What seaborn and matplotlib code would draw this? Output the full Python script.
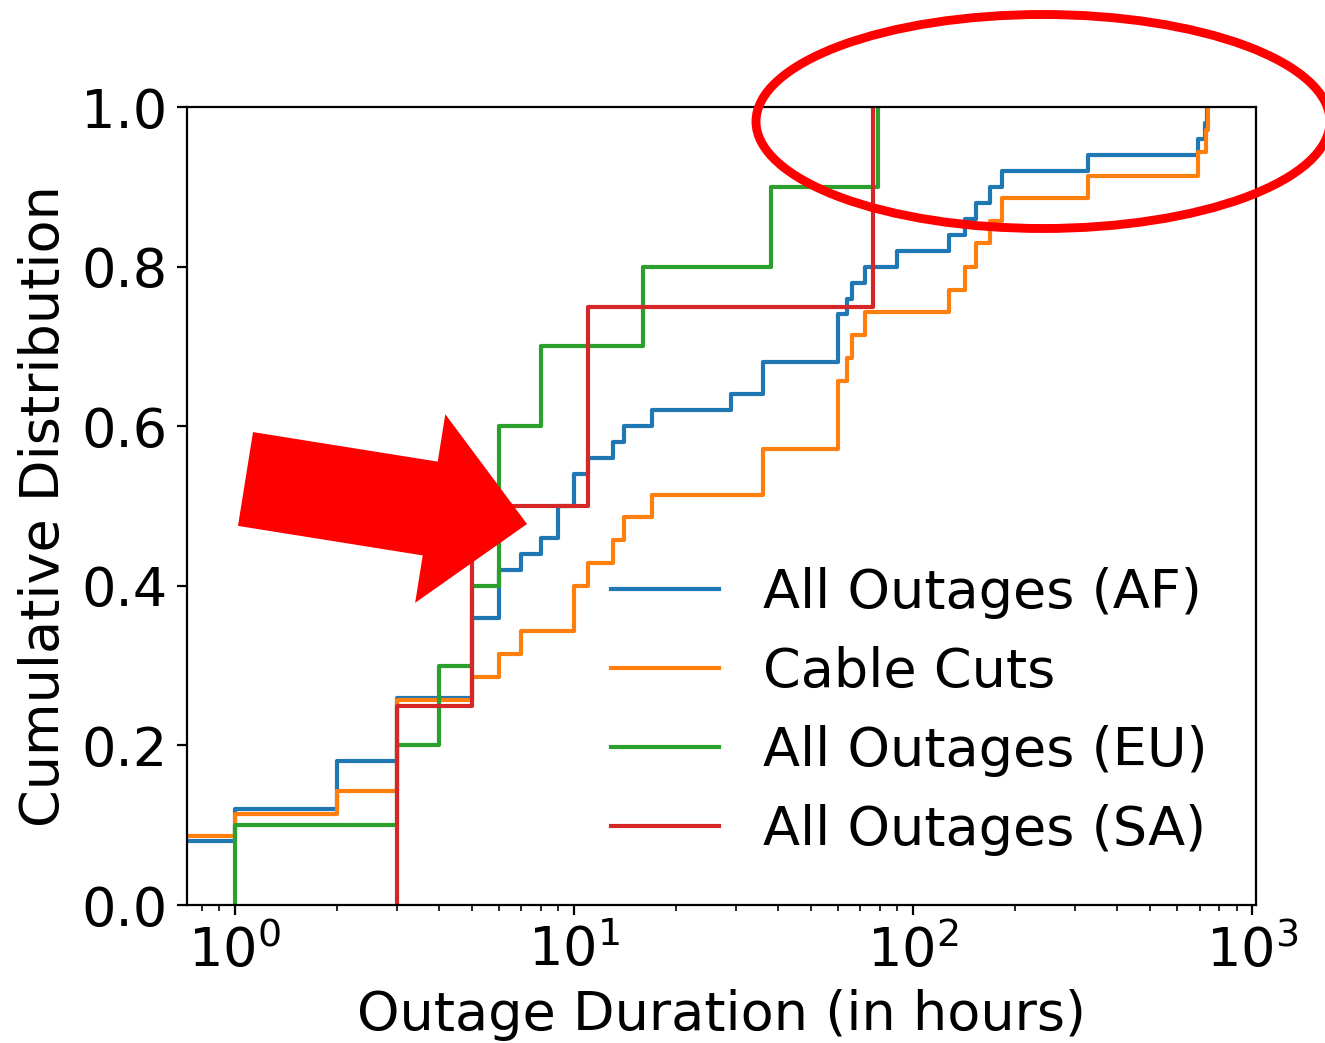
import numpy as np
import pandas as pd
import matplotlib
matplotlib.use('Agg')
import matplotlib.pyplot as plt
from matplotlib.patches import Ellipse, FancyArrow
import seaborn as sns

# step points (hours, cumulative fraction)
af_hours = [0, 1, 2, 3, 5, 6, 7, 8, 9, 10, 11, 13, 14, 17, 29, 36, 60, 64, 66, 72,
            90, 128, 142, 153, 169, 183, 328, 693, 727, 738]
af_cdf = [0.08, 0.12, 0.18, 0.26, 0.36, 0.42, 0.44, 0.46, 0.50, 0.54, 0.56, 0.58, 0.60,
          0.62, 0.64, 0.68, 0.74, 0.76, 0.78, 0.80, 0.82, 0.84, 0.86, 0.88, 0.90, 0.92,
          0.94, 0.96, 0.98, 1.0]

cut_hours = [0, 1, 2, 3, 5, 6, 7, 10, 11, 13, 14, 17, 36, 60, 64, 66, 72, 128, 142,
             153, 169, 183, 328, 693, 733, 740]
cut_cdf = [0.086, 0.114, 0.143, 0.257, 0.286, 0.314, 0.343, 0.400, 0.429, 0.457, 0.486,
           0.514, 0.571, 0.657, 0.686, 0.714, 0.743, 0.771, 0.800, 0.829, 0.857, 0.886,
           0.914, 0.943, 0.971, 1.0]

eu_hours = [1, 1, 3, 4, 5, 6, 8, 16, 38, 79]
eu_cdf = [0.0, 0.1, 0.2, 0.3, 0.4, 0.6, 0.7, 0.8, 0.9, 1.0]

sa_hours = [3, 3, 5, 11, 76]
sa_cdf = [0.0, 0.25, 0.5, 0.75, 1.0]

labels = ['All Outages (AF)', 'Cable Cuts', 'All Outages (EU)', 'All Outages (SA)']
colors = ['#1f77b4', '#ff7f0e', '#2ca02c', '#d62728']
series = [(af_hours, af_cdf), (cut_hours, cut_cdf), (eu_hours, eu_cdf), (sa_hours, sa_cdf)]

plt.rcParams['font.size'] = 19.5

fig = plt.figure(figsize=(6.625, 5.215), dpi=200)
ax = fig.add_axes([0.1411, 0.1323, 0.8068, 0.7651])

for (hrs, cdf), lab, col in zip(series, labels, colors):
    df = pd.DataFrame({'hours': hrs, 'cdf': cdf})
    sns.lineplot(data=df, x='hours', y='cdf', ax=ax, estimator=None, sort=False,
                 drawstyle='steps-post', color=col, label=lab, linewidth=1.5)

ax.set_xscale('log')
ax.set_xlim(0.722, 1027)
ax.set_ylim(0, 1.0)
ax.set_yticks([0.0, 0.2, 0.4, 0.6, 0.8, 1.0])
ax.set_xlabel('Outage Duration (in hours)')
ax.set_ylabel('Cumulative Distribution')
ax.legend(loc='lower right', frameon=False, fontsize=19.5)

# red highlight marks
tr = fig.dpi_scale_trans
ell = Ellipse((1043 / 200, (1043 - 121.5) / 200), 574 / 200, 214 / 200,
              transform=tr, fill=False, edgecolor='#ff0000', linewidth=3.2, clip_on=False)
fig.patches.append(ell)
arr = FancyArrow(245.5 / 200, (1043 - 479) / 200, 281.5 / 200, -45 / 200,
                 width=95 / 200, head_width=191 / 200, head_length=98 / 200,
                 length_includes_head=True, transform=tr, color='#ff0000', linewidth=0)
fig.patches.append(arr)

fig.savefig('out.png', dpi=200)
